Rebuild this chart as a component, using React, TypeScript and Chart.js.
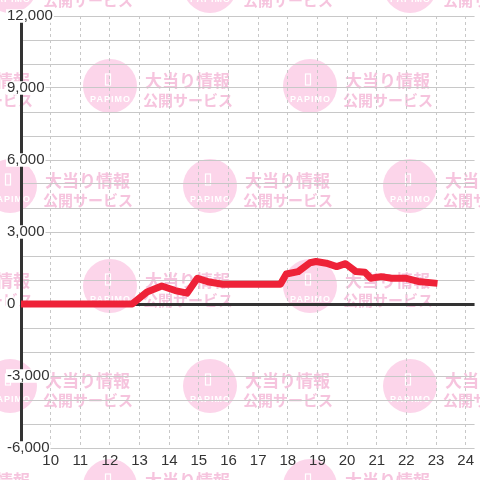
import React, { useEffect, useRef } from 'react';
import { Chart, registerables } from 'chart.js';

Chart.register(...registerables);

// Data (hour of day -> balance)
const hours = [8.85, 12.75, 13.25, 13.75, 14.2, 14.6, 14.95, 15.3, 15.8, 17.75, 17.95, 18.35, 18.75, 18.95, 19.3, 19.65, 19.95, 20.3, 20.6, 20.8, 21.15, 21.5, 22.0, 22.4, 23.05];
const balance = [0, 0, 500, 750, 560, 450, 1070, 930, 820, 820, 1250, 1350, 1720, 1770, 1700, 1560, 1680, 1350, 1320, 1070, 1140, 1070, 1070, 940, 860];

const xMin = 9;
const xMax = 24.3;
const yMin = -6000;
const yMax = 12000;
const yLabelStep = 3000;
const yGridStep = 1000;

const watermarkTitle = '大当り情報';
const watermarkSub = '公開サービス';
const watermarkLogo = 'PAPIMO';

const LINE_COLOR = '#ee2238';
const GRID_COLOR = '#c8c8c8';
const AXIS_COLOR = '#333333';
const FONT = '"Liberation Sans", Arial, sans-serif';

const watermarkPlugin = {
  id: 'watermark',
  beforeDraw(chart: any) {
    const ctx = chart.ctx as CanvasRenderingContext2D;
    const w = chart.width;
    const h = chart.height;
    ctx.save();
    ctx.fillStyle = '#ffffff';
    ctx.fillRect(0, 0, w, h);
    const rows = [-14, 86, 186, 286, 386, 486];
    rows.forEach((cy, ri) => {
      const xs = ri % 2 === 0 ? [10, 210, 410] : [-90, 110, 310];
      xs.forEach((cx) => {
        ctx.fillStyle = '#fcd5ea';
        ctx.beginPath();
        ctx.arc(cx, cy, 27, 0, Math.PI * 2);
        ctx.fill();
        // icon
        ctx.strokeStyle = '#ffffff';
        ctx.lineWidth = 1.2;
        ctx.strokeRect(cx - 4.5, cy - 12, 5, 11);
        // logo text
        ctx.fillStyle = '#ffffff';
        ctx.font = 'bold 9px "Liberation Sans", Arial, sans-serif';
        (ctx as any).letterSpacing = '1px';
        ctx.textAlign = 'center';
        ctx.textBaseline = 'middle';
        ctx.fillText(watermarkLogo, cx + 0.5, cy + 14);
        (ctx as any).letterSpacing = '0px';
        // side text
        ctx.fillStyle = '#f6c4de';
        ctx.textAlign = 'left';
        ctx.font = 'bold 17px "Noto Sans CJK JP", sans-serif';
        ctx.fillText(watermarkTitle, cx + 35, cy - 5);
        ctx.font = 'bold 15px "Noto Sans CJK JP", sans-serif';
        ctx.fillText(watermarkSub, cx + 33, cy + 14);
      });
    });
    ctx.restore();
  },
};

export default function App() {
  const ref = useRef<HTMLCanvasElement | null>(null);

  useEffect(() => {
    if (!ref.current) return;
    const points = hours.map((x, i) => ({ x, y: balance[i] }));
    const chart = new Chart(ref.current, {
      type: 'line',
      data: {
        datasets: [
          {
            data: points,
            borderColor: LINE_COLOR,
            backgroundColor: LINE_COLOR,
            borderWidth: 7,
            pointRadius: 0,
            pointHoverRadius: 0,
            tension: 0,
            borderCapStyle: 'butt',
            borderJoinStyle: 'round',
            fill: false,
          },
        ],
      },
      options: {
        animation: false,
        responsive: false,
        devicePixelRatio: 1,
        layout: { padding: { top: 16, left: 0, right: 0, bottom: 0 } },
        plugins: {
          legend: { display: false },
          tooltip: { enabled: false },
        },
        scales: {
          x: {
            type: 'linear',
            min: xMin,
            max: xMax,
            afterFit: (scale: any) => {
              scale.height = 32;
            },
            ticks: {
              stepSize: 1,
              includeBounds: false,
              autoSkip: false,
              maxRotation: 0,
              padding: 6,
              color: AXIS_COLOR,
              font: { family: FONT, size: 15, lineHeight: 0.9 },
              callback: (v: any) => (Number(v) === xMin ? '' : String(v)),
            },
            grid: {
              drawTicks: false,
              color: (c: any) => (c.tick && c.tick.value <= xMin ? 'rgba(0,0,0,0)' : GRID_COLOR),
              lineWidth: 1,
            },
            border: { display: false, dash: [3, 3] },
          },
          y: {
            type: 'linear',
            min: yMin,
            max: yMax,
            afterFit: (scale: any) => {
              scale.width = 21;
            },
            ticks: {
              stepSize: yGridStep,
              autoSkip: false,
              mirror: true,
              crossAlign: 'near',
              padding: -14,
              color: AXIS_COLOR,
              font: { family: FONT, size: 15, lineHeight: 0.9 },
              showLabelBackdrop: true,
              backdropColor: (c: any) =>
                c.tick && c.tick.value % yLabelStep === 0 ? '#ffffff' : 'rgba(0,0,0,0)',
              backdropPadding: { top: 0, bottom: 0, left: 1, right: 1 },
              callback: (v: any) =>
                Number(v) % yLabelStep === 0 ? Number(v).toLocaleString('en-US') : '',
            },
            grid: {
              drawTicks: false,
              color: (c: any) => (c.tick && c.tick.value === 0 ? AXIS_COLOR : GRID_COLOR),
              lineWidth: (c: any) => (c.tick && c.tick.value === 0 ? 3 : 1),
            },
            border: { display: true, color: AXIS_COLOR, width: 3 },
          },
        },
      },
      plugins: [watermarkPlugin],
    } as any);
    return () => chart.destroy();
  }, []);

  return (
    <div style={{ position: 'fixed', left: 0, top: 0, width: 480, height: 480, background: '#fff' }}>
      <canvas ref={ref} width={480} height={480} style={{ width: 480, height: 480, display: 'block' }} />
    </div>
  );
}
